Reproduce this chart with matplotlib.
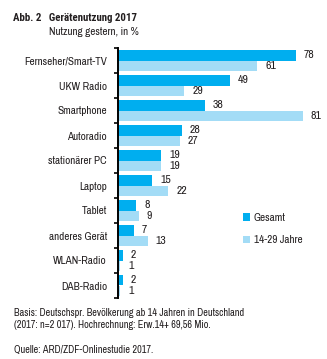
import matplotlib
matplotlib.use("Agg")
import matplotlib.pyplot as plt
from matplotlib.font_manager import fontManager
import numpy as np

categories = ["Fernseher/Smart-TV", "UKW Radio", "Smartphone", "Autoradio",
              "stationärer PC", "Laptop", "Tablet", "anderes Gerät",
              "WLAN-Radio", "DAB-Radio"]
gesamt = [78, 49, 38, 28, 19, 15, 8, 7, 2, 2]
jung = [61, 29, 81, 27, 19, 22, 9, 13, 1, 1]
series_names = ["Gesamt", "14-29 Jahre"]

names = {f.name for f in fontManager.ttflist}
def pick(*cands):
    for c in cands:
        if c in names:
            return [c, "DejaVu Sans"]
    return ["DejaVu Sans"]
fam = pick("Archivo Narrow", "Roboto Condensed", "Liberation Sans Narrow", "Liberation Sans")
bold_fam = pick("Roboto Condensed", "Fira Sans Condensed", "Asap Condensed", "Liberation Sans")
plt.rcParams['font.family'] = fam

dark = "#00AEEF"
light = "#A3DCF6"
txt = "#231F20"

W, H = 327, 359
fig = plt.figure(figsize=(W/100, H/100), dpi=100)
x0, x1 = 118, 318
y0, y1 = 48, 298
ax = fig.add_axes([x0/W, 1 - y1/H, (x1-x0)/W, (y1-y0)/H])

n = len(categories)
y = np.arange(n)
h = 0.42
ax.barh(y - h/2, gesamt, height=h, color=dark, label=series_names[0])
ax.barh(y + h/2, jung, height=h, color=light, label=series_names[1])

scale = (x1 - x0) / 87.6
ax.set_xlim(0, 87.6)
ax.set_ylim(n - 0.5, -0.5)
for i in range(n):
    ax.text(gesamt[i] + 8/scale, y[i] - h/2, str(gesamt[i]), va='center', ha='left',
            fontsize=8.5, color=txt)
    ax.text(jung[i] + 8/scale, y[i] + h/2, str(jung[i]), va='center', ha='left',
            fontsize=8.5, color=txt)

ax.set_yticks(y)
ax.set_yticklabels(categories, fontsize=8, color=txt)
ax.tick_params(axis='y', which='major', length=0, pad=8)
ax.set_yticks(np.arange(-0.5, n, 1.0), minor=True)
ax.tick_params(axis='y', which='minor', length=3, width=1.2, direction='out', color='black')
ax.set_xticks([])
for s in ['top', 'right', 'bottom']:
    ax.spines[s].set_visible(False)
ax.spines['left'].set_linewidth(1.4)
ax.spines['left'].set_color('black')

leg = fig.legend(handles=ax.patches[:1] + ax.patches[n:n+1], labels=series_names,
                 loc='upper left', bbox_to_anchor=(243/W, 1 - 213/H), frameon=False,
                 fontsize=8, handlelength=0.65, handleheight=0.65, handletextpad=0.3,
                 labelspacing=1.1, borderpad=0, borderaxespad=0)
for t in leg.get_texts():
    t.set_color(txt)

fig.text(13/W, 1 - 18/H, "Abb. 2   Gerätenutzung 2017", fontsize=7.8, fontweight='bold',
         family=bold_fam, color=txt, va='center', ha='left')
fig.text(49/W, 1 - 32/H, "Nutzung gestern, in %", fontsize=8, color=txt, va='center', ha='left')
fig.text(14/W, 1 - 313/H, "Basis: Deutschspr. Bevölkerung ab 14 Jahren in Deutschland",
         fontsize=7.4, color=txt, va='center', ha='left')
fig.text(14/W, 1 - 325/H, "(2017: n=2 017). Hochrechnung: Erw.14+ 69,56 Mio.",
         fontsize=7.4, color=txt, va='center', ha='left')
fig.text(14/W, 1 - 350/H, "Quelle: ARD/ZDF-Onlinestudie 2017.",
         fontsize=7.4, color=txt, va='center', ha='left')

fig.savefig("out.png", dpi=100, facecolor='white')
